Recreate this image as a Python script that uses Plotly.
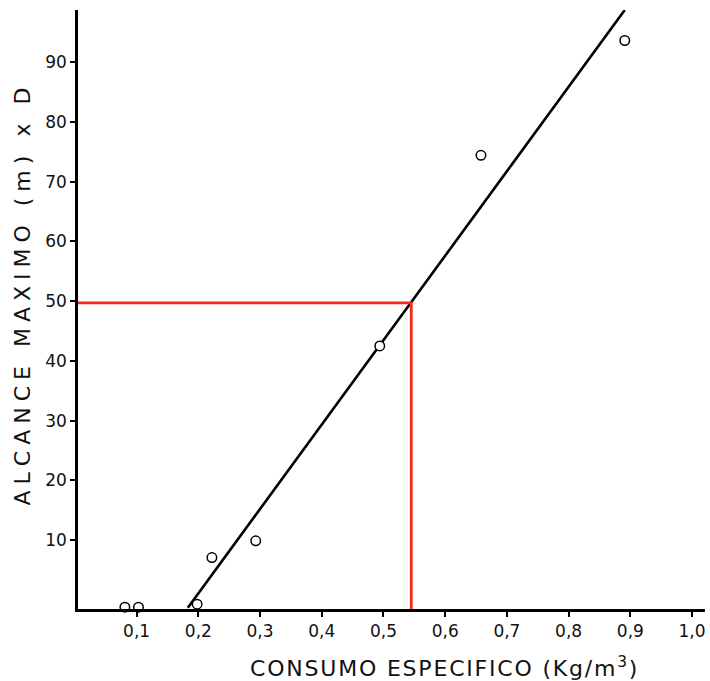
import plotly.graph_objects as go

# Data
consumo = [0.081, 0.103, 0.172, 0.198, 0.222, 0.293, 0.494, 0.658, 0.891]
alcance = [-1.2, -1.2, -1.6, -0.7, 7.1, 9.9, 42.5, 74.4, 93.6]

fit_x = [0.183, 0.891]
fit_y = [-1.3, 98.7]

ref_x = 0.545
ref_y = 49.7

x_range = [0.005, 1.021]
y_range = [-1.5, 98.7]

x_tickvals = [0.1, 0.2, 0.3, 0.4, 0.5, 0.6, 0.7, 0.8, 0.9, 1.0]
x_ticktext = ["0,1", "0,2", "0,3", "0,4", "0,5", "0,6", "0,7", "0,8", "0,9", "1,0"]
y_tickvals = [10, 20, 30, 40, 50, 60, 70, 80, 90]

x_title = "CONSUMO ESPECIFICO (Kg/m<sup>3</sup>)"
y_title = "ALCANCE MAXIMO (m) x D"

fig = go.Figure()

fig.add_trace(go.Scatter(x=fit_x, y=fit_y, mode="lines",
                         line=dict(color="black", width=2.6), showlegend=False))

fig.add_trace(go.Scatter(x=[x_range[0], ref_x, ref_x], y=[ref_y, ref_y, y_range[0]],
                         mode="lines", line=dict(color="#f42a1a", width=2.8),
                         showlegend=False))

fig.add_trace(go.Scatter(x=consumo, y=alcance, mode="markers",
                         marker=dict(symbol="circle", size=9.5, color="white",
                                     line=dict(color="black", width=1.5)),
                         cliponaxis=False, showlegend=False))

font_fam = "DejaVu Sans, Arial, sans-serif"

fig.update_layout(
    width=710, height=681,
    margin=dict(l=78, r=5, t=10, b=72),
    paper_bgcolor="white", plot_bgcolor="white",
    font=dict(family=font_fam, size=17, color="#111111"),
    xaxis=dict(range=x_range, showgrid=False, zeroline=False,
               showline=True, linecolor="black", linewidth=2.5,
               ticks="outside", ticklen=5, tickwidth=1.5, tickcolor="black",
               tickvals=x_tickvals, ticktext=x_ticktext,
               tickfont=dict(family=font_fam, size=17, color="#111111")),
    yaxis=dict(range=y_range, showgrid=False, zeroline=False,
               showline=True, linecolor="black", linewidth=2.5,
               ticks="outside", ticklen=5, tickwidth=1.5, tickcolor="black",
               tickvals=y_tickvals,
               tickfont=dict(family=font_fam, size=17, color="#111111")),
    annotations=[
        dict(text='<span style="letter-spacing:1.8px">' + x_title + '</span>',
             xref="paper", yref="paper",
             x=0.584, y=0, xanchor="center", yanchor="top", yshift=-42,
             showarrow=False, font=dict(family=font_fam, size=22, color="#111111")),
        dict(text='<span style="letter-spacing:6px">' + y_title + '</span>',
             xref="paper", yref="paper",
             x=-0.089, y=0.527, xanchor="center", yanchor="middle", textangle=-90,
             showarrow=False, font=dict(family=font_fam, size=22, color="#111111")),
    ],
)

fig.write_html("out.html", config={"displayModeBar": False},
               post_script="document.body.style.margin='0';")
